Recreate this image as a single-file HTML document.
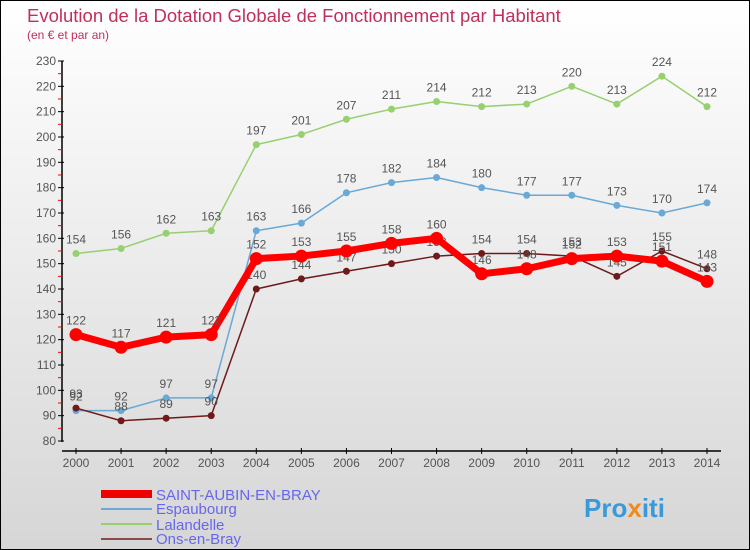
<!DOCTYPE html>
<html><head><meta charset="utf-8"><style>
body{margin:0}
#c{width:748px;height:548px;border:1px solid #000;background:linear-gradient(#fff,#d6d6d6);position:relative;font-family:"Liberation Sans",sans-serif;overflow:hidden}
</style></head><body>
<div id="c">
<svg id="s" width="748" height="548" style="position:absolute;left:0;top:0">
<text x="26" y="21" font-size="18.5" fill="#c0305a">Evolution de la Dotation Globale de Fonctionnement par Habitant</text>
<text x="26" y="38" font-size="12" fill="#c0305a">(en € et par an)</text>
<g id="g"></g>
<g>
<rect x="100" y="489" width="51" height="8" fill="#e00"/>
<text x="155" y="499" font-size="15" fill="#6666ee">SAINT-AUBIN-EN-BRAY</text>
<rect x="100" y="507" width="51" height="2" fill="#6aa8d6"/>
<text x="155" y="513" font-size="15" fill="#6666ee">Espaubourg</text>
<rect x="100" y="522" width="51" height="2" fill="#96d070"/>
<text x="155" y="529" font-size="15" fill="#6666ee">Lalandelle</text>
<rect x="100" y="537" width="51" height="2" fill="#8a4a4a"/>
<text x="155" y="543" font-size="15" fill="#6666ee">Ons-en-Bray</text>
</g>
<text x="583" y="516" font-size="26" font-weight="bold" fill="#3a9ad9">Pro<tspan fill="#f08a1c">x</tspan>iti</text>
</svg>
</div>
<script>
const years=[2000,2001,2002,2003,2004,2005,2006,2007,2008,2009,2010,2011,2012,2013,2014];
const saintAubin=[122,117,121,122,152,153,155,158,160,146,148,152,153,151,143];
const espaubourg=[92,92,97,97,163,166,178,182,184,180,177,177,173,170,174];
const lalandelle=[154,156,162,163,197,201,207,211,214,212,213,220,213,224,212];
const onsEnBray=[93,88,89,90,140,144,147,150,153,154,154,153,145,155,148];
const yTicks=[80,90,100,110,120,130,140,150,160,170,180,190,200,210,220,230];
const NS="http://www.w3.org/2000/svg";
const g=document.getElementById('g');
const x=i=>75+i*(631/14);
const y=v=>440-(v-80)*(380/150);
function mk(t,a){const e=document.createElementNS(NS,t);for(const k in a)e.setAttribute(k,a[k]);g.appendChild(e);return e;}
let ax=mk('line',{x1:61,y1:60,x2:61,y2:441,stroke:'#000','stroke-width':1.5});


let bx=mk('line',{x1:61,y1:450,x2:720,y2:450,stroke:'#000','stroke-width':1.5});


yTicks.forEach(v=>{
 let l=mk('line',{x1:57,y1:y(v),x2:63,y2:y(v),stroke:'#000'});
 
 
 if(v<230){let r=mk('line',{x1:57,y1:y(v+5),x2:61,y2:y(v+5),stroke:'#f00'});
 
 }
 let t=mk('text',{x:55,y:y(v)+4,'font-size':12,fill:'#555','text-anchor':'end'});t.textContent=v;
 
 
});
years.forEach((yr,i)=>{
 let l=mk('line',{x1:x(i),y1:447,x2:x(i),y2:453,stroke:'#000'});
 
 
 let t=mk('text',{x:x(i),y:466,'font-size':12,fill:'#555','text-anchor':'middle'});t.textContent=yr;
 
 
});
function series(d,col,w,r,name){
 let p=mk('polyline',{points:d.map((v,i)=>x(i)+','+y(v)).join(' '),fill:'none',stroke:col,'stroke-width':w,'stroke-linejoin':'round'});
 
 
 d.forEach((v,i)=>{
  let c=mk('circle',{cx:x(i),cy:y(v),r:r,fill:col});
  
  
  let t=mk('text',{x:x(i),y:y(v)-10,'font-size':12,fill:'#555','text-anchor':'middle'});t.textContent=v;
  
  
 });
}
series(lalandelle,'#96d070',1.5,3.5,'lalandelle');
series(espaubourg,'#6aa8d6',1.5,3.5,'espaubourg');
series(onsEnBray,'#6e1a1a',1.5,3.5,'ons-en-bray');
series(saintAubin,'#f00',7,6.5,'saint-aubin');
</script>
</body></html>
